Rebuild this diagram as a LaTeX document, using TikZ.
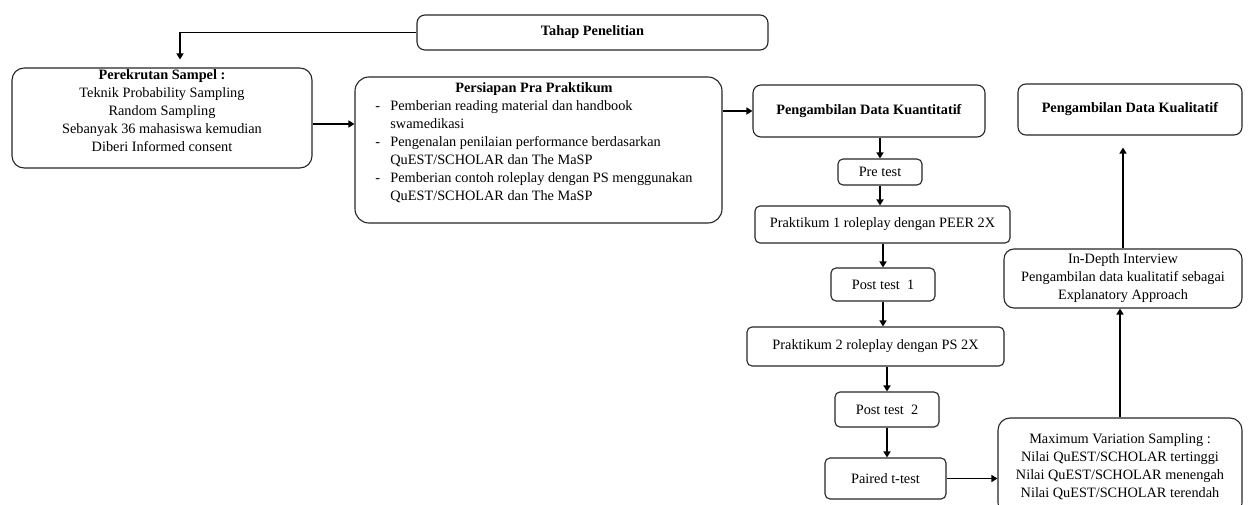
\documentclass[tikz,border=0pt]{standalone}
\usepackage{fontspec}
\setmainfont{Liberation Serif}
\usetikzlibrary{arrows.meta,calc}
\begin{document}
\begin{tikzpicture}[x=1pt,y=-1pt,
  box/.style={draw=black!85, line width=1.1pt, rounded corners=8pt, align=center, inner sep=2pt,
    font=\fontsize{14.3}{18}\selectfont},
  sbox/.style={box, rounded corners=5pt},
  arr/.style={-{Triangle[length=6pt,width=7pt]}, line width=1.8pt}]
\useasboundingbox (0,0) rectangle (1255,505);
\fill[white] (0,0) rectangle (1255,505);

\node[box, minimum width=351pt, minimum height=35pt] (tahap) at (592.5,32.5) {\textbf{Tahap Penelitian}};
\node[box, rounded corners=12pt, minimum width=300pt, minimum height=98pt] (perek) at (162,118)
  {\textbf{Perekrutan Sampel :}\\Teknik Probability Sampling\\Random Sampling\\Sebanyak 36 mahasiswa kemudian\\Diberi Informed consent\\[-4pt]};
\node[box, rounded corners=14pt, minimum width=367pt, minimum height=146pt] (pers) at (538.5,150)
  {\def\arraystretch{1.0}\begin{tabular}{@{}p{15pt}@{}l@{}}
   \multicolumn{2}{c}{\textbf{Persiapan Pra Praktikum}}\\
   - & Pemberian reading material dan handbook\\
     & swamedikasi\\
   - & Pengenalan penilaian performance berdasarkan\\
     & QuEST/SCHOLAR dan The MaSP\\
   - & Pemberian contoh roleplay dengan PS menggunakan\\
     & QuEST/SCHOLAR dan The MaSP\\[15pt]
   \end{tabular}\hspace*{9pt}};
\node[box, minimum width=232pt, minimum height=52pt] (kuant) at (869,111) {\textbf{Pengambilan Data Kuantitatif}};
\node[box, minimum width=224pt, minimum height=51pt] (kual) at (1130,109.5) {\textbf{Pengambilan Data Kualitatif}};
\node[sbox, minimum width=84pt, minimum height=26pt] (pre) at (880,172) {Pre test};
\node[sbox, minimum width=255pt, minimum height=37pt] (prak1) at (882.5,224.5) {Praktikum 1 roleplay dengan PEER 2X};
\node[sbox, minimum width=104pt, minimum height=33pt] (post1) at (883,284.5) {Post test\ \ 1};
\node[sbox, minimum width=257pt, minimum height=39pt] (prak2) at (875.5,346.5) {Praktikum 2 roleplay dengan PS 2X};
\node[sbox, minimum width=104pt, minimum height=35pt] (post2) at (887,409.5) {Post test\ \ 2};
\node[sbox, minimum width=121pt, minimum height=41pt] (paired) at (885.5,478.5) {Paired t-test};
\node[box, rounded corners=12pt, minimum width=244pt, minimum height=97pt] (maxv) at (1120,466.5)
  {Maximum Variation Sampling :\\Nilai QuEST/SCHOLAR tertinggi\\Nilai QuEST/SCHOLAR menengah\\Nilai QuEST/SCHOLAR terendah};
\node[box, rounded corners=10pt, minimum width=238pt, minimum height=59pt] (indep) at (1123,278.5)
  {In-Depth Interview\\Pengambilan data kualitatif sebagai\\Explanatory Approach};

\draw[arr, shorten >=8pt] (tahap.west) -| ($(perek.north)+(18,0)$);
\draw[arr] ([yshift=-6pt]perek.east) -- ([yshift=-6pt]perek.east -| pers.west);
\draw[arr] (pers.east |- kuant.west) -- (kuant.west);
\draw[arr] (kuant.south -| pre.north) -- (pre.north);
\draw[arr] (pre.south) -- (pre.south |- prak1.north);
\draw[arr] (post1.north |- prak1.south) -- (post1.north);
\draw[arr] (post1.south) -- (post1.south |- prak2.north);
\draw[arr] (post2.north |- prak2.south) -- (post2.north);
\draw[arr] (post2.south) -- (post2.south |- paired.north);
\draw[arr] (paired.east) -- (paired.east -| maxv.west);
\draw[arr] (maxv.north) -- (maxv.north |- indep.south);
\draw[arr, shorten >=12pt] (indep.north) -- (indep.north |- kual.south);
\end{tikzpicture}
\end{document}
